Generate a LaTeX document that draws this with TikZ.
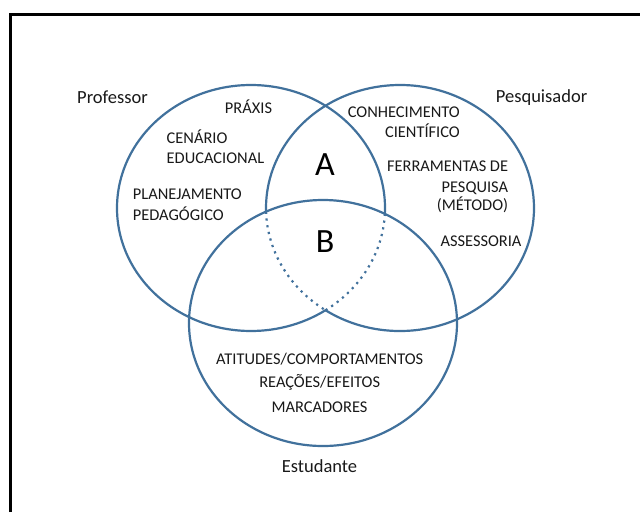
\documentclass[tikz,border=0pt]{standalone}
\usepackage{fontspec}
\setmainfont{Carlito}
\definecolor{ringblue}{RGB}{65,113,156}
\definecolor{txt}{RGB}{25,25,25}
\begin{document}
\begin{tikzpicture}[x=1pt,y=-1pt,
  ring/.style={draw=ringblue, line width=2.2pt},
  dotring/.style={draw=ringblue, line width=2.2pt, dash pattern=on 2.2pt off 4.6pt},
  framebox/.style={draw=black, line width=2.6pt},
  lab/.style={inner sep=0pt, font=\fontsize{18.5}{22}\selectfont, text=txt},
  item/.style={inner sep=0pt, font=\fontsize{16.4}{20}\selectfont, text=txt},
  big/.style={inner sep=0pt, font=\fontsize{34}{40}\selectfont, text=black}]
\useasboundingbox (0,0) rectangle (640,512);
\fill[white] (0,0) rectangle (640,512);
% frame (cropped at right and bottom)
\coordinate (fbl) at (10.3,512);
\coordinate (ftl) at (10.3,14.6);
\coordinate (ftr) at (640,14.6);
\draw[framebox] (fbl) -- (ftl) -- (ftr);
% ellipse centres
\coordinate (P) at (251,208);
\coordinate (Q) at (400,208);
\coordinate (S) at (323,323);
% Estudante
\draw[ring] (S) ellipse [x radius=134pt, y radius=123pt];
% Professor
\draw[ring] ([shift={(-2.75:134pt and 123pt)}]P) arc[start angle=-2.75, end angle=303.8, x radius=134pt, y radius=123pt];
\draw[dotring] ([shift={(-56.2:134pt and 123pt)}]P) arc[start angle=-56.2, end angle=-2.75, x radius=134pt, y radius=123pt];
% Pesquisador
\draw[ring] ([shift={(236.2:134pt and 123pt)}]Q) arc[start angle=236.2, end angle=541.7, x radius=134pt, y radius=123pt];
\draw[dotring] ([shift={(181.7:134pt and 123pt)}]Q) arc[start angle=181.7, end angle=236.2, x radius=134pt, y radius=123pt];
% labels
\node[lab, anchor=base west] (prof) at (77,103) {Professor};
\node[item, anchor=base] (praxis) at (248.5,113) {PRÁXIS};
\node[item, anchor=base west] (cen1) at (166.5,143.3) {CENÁRIO};
\node[item, anchor=base west] (cen2) at (166.5,163.3) {EDUCACIONAL};
\node[item, anchor=base west] (pla1) at (132.7,199.3) {PLANEJAMENTO};
\node[item, anchor=base west] (pla2) at (132.7,220) {PEDAGÓGICO};
\node[lab, anchor=base west] (pesq) at (495.7,102) {Pesquisador};
\node[item, anchor=base east] (con1) at (460,117.3) {CONHECIMENTO};
\node[item, anchor=base east] (con2) at (460,137.3) {CIENTÍFICO};
\node[item, anchor=base east] (fer1) at (508.3,171.7) {FERRAMENTAS DE};
\node[item, anchor=base east] (fer2) at (508.3,192.5) {PESQUISA};
\node[item, anchor=base east] (fer3) at (508.3,210.8) {(MÉTODO)};
\node[item, anchor=base east] (ass) at (521.7,246) {ASSESSORIA};
\node[big, anchor=base] (A) at (325,175) {A};
\node[big, anchor=base] (B) at (325,252) {B};
\node[item, anchor=base] (est1) at (319.7,364.3) {ATITUDES/COMPORTAMENTOS};
\node[item, anchor=base] (est2) at (319.7,387.7) {REAÇÕES/EFEITOS};
\node[item, anchor=base] (est3) at (319.5,412) {MARCADORES};
\node[lab, anchor=base] (estud) at (319.5,472.7) {Estudante};
\end{tikzpicture}
\end{document}
